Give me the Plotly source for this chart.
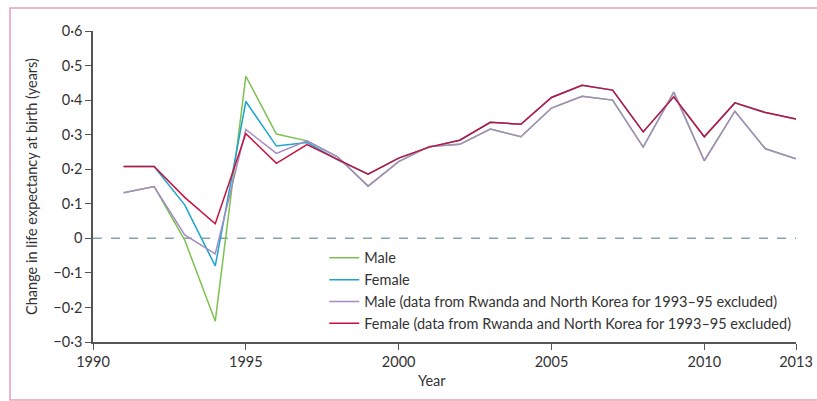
import plotly.graph_objects as go

years = list(range(1991, 2014))

male = [0.132, 0.150, -0.005, -0.240, 0.469, 0.302, 0.282, 0.236, 0.151, 0.222, 0.266, 0.272,
        0.316, 0.294, 0.377, 0.411, 0.400, 0.264, 0.423, 0.2245, 0.368, 0.259, 0.230]
female = [0.208, 0.208, 0.097, -0.080, 0.396, 0.267, 0.277, 0.2275, 0.186, 0.232, 0.264, 0.284,
          0.336, 0.330, 0.4075, 0.443, 0.429, 0.308, 0.4095, 0.294, 0.392, 0.364, 0.345]
male_excl = [0.132, 0.150, 0.010, -0.045, 0.315, 0.246, 0.282, 0.236, 0.151, 0.222, 0.266, 0.272,
             0.316, 0.294, 0.377, 0.411, 0.400, 0.264, 0.423, 0.2245, 0.368, 0.259, 0.230]
female_excl = [0.208, 0.208, 0.1185, 0.042, 0.303, 0.217, 0.271, 0.2275, 0.186, 0.232, 0.264, 0.284,
               0.336, 0.330, 0.4075, 0.443, 0.429, 0.308, 0.4095, 0.294, 0.392, 0.364, 0.345]

names = ["Male", "Female",
         "Male (data from Rwanda and North Korea for 1993–95 excluded)",
         "Female (data from Rwanda and North Korea for 1993–95 excluded)"]
colors = ["#7dc050", "#1ca4cf", "#a58bc6", "#c8103e"]
series = [male, female, male_excl, female_excl]

x_ticks = [1990, 1995, 2000, 2005, 2010, 2013]
y_ticks = [-0.3, -0.2, -0.1, 0, 0.1, 0.2, 0.3, 0.4, 0.5, 0.6]
y_ticktext = ["−0·3", "−0·2", "−0·1", "0", "0·1", "0·2", "0·3", "0·4", "0·5", "0·6"]

fig = go.Figure()
for nm, col, s in zip(names, colors, series):
    fig.add_trace(go.Scatter(x=years, y=s, mode="lines", name=nm,
                             line=dict(color=col, width=1.5)))

fig.add_shape(type="line", xref="x", yref="y", x0=1990, x1=2013, y0=0, y1=0,
              line=dict(color="#8aa3ab", width=1.5, dash="dash"), layer="below")

# outer pink frame
fig.add_shape(type="rect", xref="paper", yref="paper",
              x0=-0.118, x1=1.1, y0=-0.1865, y1=1.074,
              line=dict(color="#e7a0b3", width=1.5), fillcolor="rgba(0,0,0,0)")

font = "Lato, 'Open Sans', sans-serif"
fig.update_layout(
    width=817, height=401,
    autosize=False,
    margin=dict(l=93, r=21, t=31, b=59, autoexpand=False),
    paper_bgcolor="white", plot_bgcolor="white",
    font=dict(family=font, size=14.5, color="#333333"),
    showlegend=True,
    legend=dict(x=0.329, y=0.322, xanchor="left", yanchor="top",
                bgcolor="rgba(0,0,0,0)", font=dict(size=14.5, color="#333333"),
                tracegroupgap=0, itemwidth=30),
    xaxis=dict(range=[1990, 2013], tickvals=x_ticks, ticks="outside", ticklen=6,
               tickcolor="#555555", showline=True, linecolor="#555555", linewidth=1.5,
               showgrid=False, zeroline=False, automargin=False,
               tickfont=dict(size=14.5, color="#333333")),
    yaxis=dict(range=[-0.3, 0.6], tickvals=y_ticks, ticktext=y_ticktext, ticks="outside",
               ticklen=6, tickcolor="#555555", showline=True, linecolor="#555555", linewidth=1.5,
               showgrid=False, zeroline=False, automargin=False,
               tickfont=dict(size=14.5, color="#333333"),
               title=dict(text="Change in life expectancy at birth (years)",
                          font=dict(size=14.5, color="#333333"), standoff=12)),
    annotations=[dict(text="Year", xref="x", yref="paper", x=2001.1, y=-0.125,
                      showarrow=False, xanchor="center", yanchor="middle",
                      font=dict(size=14.5, color="#333333"))],
)

fig.write_html("out.html", config={"displayModeBar": False},
               post_script="document.body.style.margin='0';document.body.style.padding='0';")
